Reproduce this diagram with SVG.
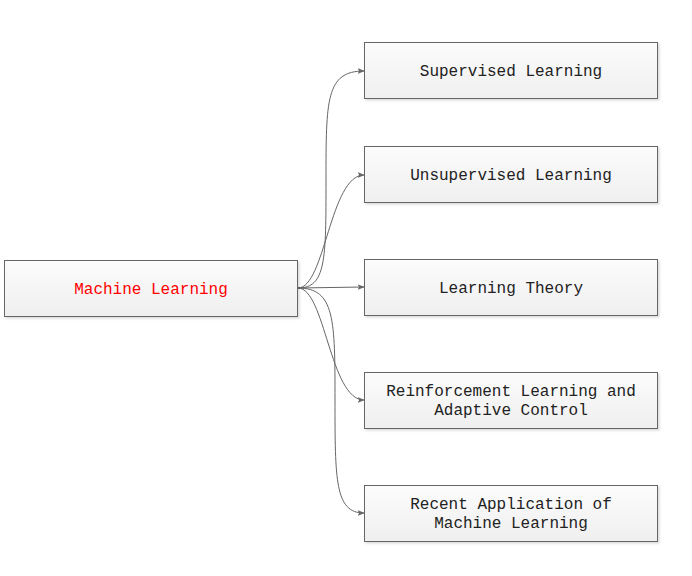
<svg xmlns="http://www.w3.org/2000/svg" width="692" height="576" viewBox="0 0 692 576">
<style>
.box{fill:url(#g);stroke:#666;stroke-width:1;filter:url(#sh)}
.t{font-family:"Liberation Mono","Courier New",monospace;font-size:16px;fill:#222;text-anchor:middle;dominant-baseline:central}
.root{fill:#ff0000}
.c{fill:none;stroke:#666;stroke-width:1;marker-end:url(#a)}
</style>
<defs>
<linearGradient id="g" x1="0" y1="0" x2="0" y2="1">
<stop offset="0" stop-color="#fcfcfc"/>
<stop offset="1" stop-color="#efefef"/>
</linearGradient>
<filter id="sh" x="-5%" y="-10%" width="110%" height="130%">
<feDropShadow dx="1.5" dy="1.5" stdDeviation="1" flood-color="#000" flood-opacity="0.15"/>
</filter>
<marker id="a" viewBox="0 0 10 10" refX="9" refY="5" markerWidth="7" markerHeight="7" orient="auto" markerUnits="userSpaceOnUse">
<path d="M0,1 L10,5 L0,9 L2,5 Z" fill="#666"/>
</marker>
</defs>
<g id="connectors">
<path class="c" d="M298,288 C326,288 326,260 326,180 C326,100 326,71 364,71"/>
<path class="c" d="M298,288 C325,288 330,175 364,175"/>
<path class="c" d="M298,288 L364,287"/>
<path class="c" d="M298,288 C325,288 330,400 364,400"/>
<path class="c" d="M298,288 C335,288 335,320 335,400 C335,480 335,513 364,513"/>
</g>
<g id="root">
<rect class="box" x="4.5" y="260.5" width="293" height="56"/>
<text class="t root" x="151" y="290">Machine Learning</text>
</g>
<g id="n1">
<rect class="box" x="364.5" y="42.5" width="293" height="56"/>
<text class="t" x="511" y="72">Supervised Learning</text>
</g>
<g id="n2">
<rect class="box" x="364.5" y="146.5" width="293" height="56"/>
<text class="t" x="511" y="176">Unsupervised Learning</text>
</g>
<g id="n3">
<rect class="box" x="364.5" y="259.5" width="293" height="56"/>
<text class="t" x="511" y="289">Learning Theory</text>
</g>
<g id="n4">
<rect class="box" x="364.5" y="372.5" width="293" height="56"/>
<text class="t" x="511" y="392">Reinforcement Learning and</text>
<text class="t" x="511" y="411">Adaptive Control</text>
</g>
<g id="n5">
<rect class="box" x="364.5" y="485.5" width="293" height="56"/>
<text class="t" x="511" y="505">Recent Application of</text>
<text class="t" x="511" y="524">Machine Learning</text>
</g>
</svg>
